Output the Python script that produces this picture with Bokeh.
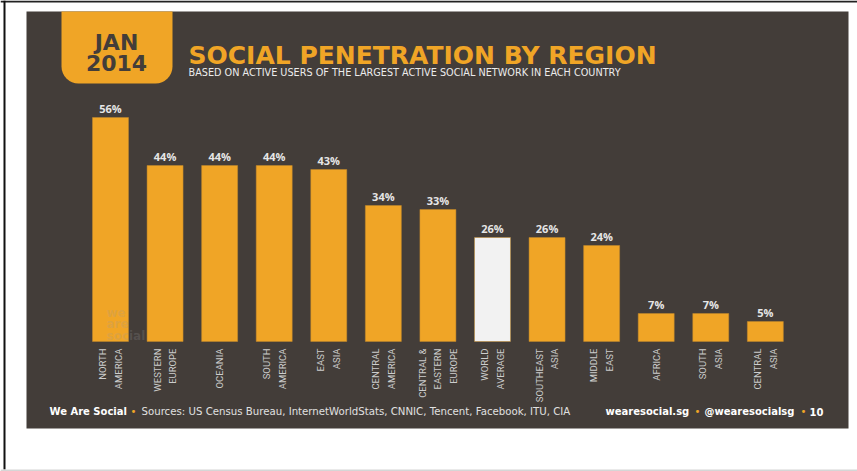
import numpy as np
from bokeh.plotting import figure
from bokeh.models import Range1d, BoxAnnotation, Label, ColumnDataSource
from bokeh.core.properties import value
from bokeh.embed import file_html
from bokeh.resources import INLINE

# ---------------- data ----------------
categories = ["NORTH\nAMERICA", "WESTERN\nEUROPE", "OCEANIA", "SOUTH\nAMERICA", "EAST\nASIA",
              "CENTRAL\nAMERICA", "CENTRAL &\nEASTERN\nEUROPE", "WORLD\nAVERAGE", "SOUTHEAST\nASIA",
              "MIDDLE\nEAST", "AFRICA", "SOUTH\nASIA", "CENTRAL\nASIA"]
penetration = [56, 44, 44, 44, 43, 34, 33, 26, 26, 24, 7, 7, 5]
highlight = "WORLD\nAVERAGE"

title = "SOCIAL PENETRATION BY REGION"
subtitle = "BASED ON ACTIVE USERS OF THE LARGEST ACTIVE SOCIAL NETWORK IN EACH COUNTRY"
badge = ["JAN", "2014"]
sources = "Sources: US Census Bureau, InternetWorldStats, CNNIC, Tencent, Facebook, ITU, CIA"

# ---------------- style / layout ----------------
ORANGE = "#f0a526"
DARK = "#433d39"
W, H = 857, 471
X0, DX = 110.0, 54.57   # pixel centre of first bar, pixels per category
Y0, DY = 341.0, 4.0     # pixel of 0 %, pixels per percent


def X(px):
    return (px - X0) / DX


def Y(py):
    return (Y0 - py) / DY


idx = list(range(len(categories)))
colors = ["#f2f2f2" if c == highlight else ORANGE for c in categories]
src = ColumnDataSource(dict(x=idx, top=penetration, cat=categories,
                            lab=[f"{v}%" for v in penetration], color=colors))

p = figure(width=W, height=H, x_range=Range1d(X(0), X(W)), y_range=Range1d(Y(H), Y(0)),
           output_backend="svg", toolbar_location=None, x_axis_location=None,
           y_axis_location=None, min_border=0, outline_line_color=None,
           background_fill_color="white", border_fill_color="white")
p.xgrid.visible = False
p.ygrid.visible = False

# page frame lines
p.add_layout(BoxAnnotation(top=Y(0), bottom=Y(2), fill_color="#222222", fill_alpha=1, line_color=None, level="underlay"))
p.add_layout(BoxAnnotation(left=X(3), right=X(5), top=Y(0), bottom=Y(469), fill_color="#111111", fill_alpha=1, line_color=None, level="underlay"))
p.add_layout(BoxAnnotation(top=Y(469), bottom=Y(471), fill_color="#d6d6d6", fill_alpha=1, line_color=None, level="underlay"))

# slide
p.add_layout(BoxAnnotation(left=X(26), right=X(848), top=Y(11), bottom=Y(428), fill_color=DARK,
                           fill_alpha=1, line_color=None, level="underlay"))
# badge
p.add_layout(BoxAnnotation(left=X(61), right=X(172), top=Y(11), bottom=Y(83), fill_color=ORANGE,
                           fill_alpha=1, line_color=None, level="underlay",
                           border_radius=(0, 0, 17, 17)))
p.add_layout(Label(x=X(116), y=Y(41.5), text=badge[0], text_align="center", text_baseline="middle",
                   text_font="DejaVu Sans", text_font_style="bold", text_font_size="22px", text_color=DARK))
p.add_layout(Label(x=X(116), y=Y(62), text=badge[1], text_align="center", text_baseline="middle",
                   text_font="DejaVu Sans", text_font_style="bold", text_font_size="22px", text_color=DARK))

# titles
p.add_layout(Label(x=X(188), y=Y(54.5), text=title, text_align="left", text_baseline="middle",
                   text_font="DejaVu Sans", text_font_style="bold", text_font_size="25px", text_color=ORANGE))
p.add_layout(Label(x=X(188), y=Y(72), text=subtitle, text_align="left", text_baseline="middle",
                   text_font="DejaVu Sans", text_font_size="9.7px", text_color="#ececec"))

# bars
p.vbar(x="x", top="top", bottom=0, width=36 / DX, fill_color="color", line_color="#c48a2c",
       line_alpha=0.5, line_width=1, source=src)

# watermark
p.add_layout(Label(x=X(106), y=Y(305), text="we\nare\nsocial", text_align="left", text_baseline="top",
                   text_font="DejaVu Sans", text_font_style="bold", text_font_size="12px",
                   text_color="#9a9a9a", text_alpha=0.22, text_line_height=0.85))

# value labels
p.text(x="x", y="top", text="lab", source=src, text_font=value("Open Sans"), text_font_style="bold",
       text_font_size="11px", text_color="#e6e6e6", text_align="center", text_baseline="middle",
       y_offset=-9)

# category labels
p.text(x="x", y=0, text="cat", source=src, angle=np.pi / 2, text_align="right", text_baseline="middle",
       y_offset=7, text_font=value("Roboto"), text_font_size="9.5px",
       text_color="#cdcdcd", text_line_height=1.42)

# footer
FY = Y(411)
FS = "10px"
p.add_layout(Label(x=X(49), y=FY, text="We Are Social", text_font="DejaVu Sans", text_font_style="bold",
                   text_font_size=FS, text_color="#ffffff", text_baseline="middle"))
p.add_layout(Label(x=X(133), y=FY, text="•", text_font="DejaVu Sans", text_font_size=FS,
                   text_color=ORANGE, text_align="center", text_baseline="middle"))
p.add_layout(Label(x=X(141), y=FY, text=sources,
                   text_font="DejaVu Sans", text_font_size="10.2px", text_color="#e0e0e0",
                   text_baseline="middle"))
p.add_layout(Label(x=X(605), y=FY, text="wearesocial.sg", text_font="DejaVu Sans", text_font_style="bold",
                   text_font_size=FS, text_color="#ffffff", text_baseline="middle"))
p.add_layout(Label(x=X(697), y=FY, text="•", text_font="DejaVu Sans", text_font_size=FS,
                   text_color=ORANGE, text_align="center", text_baseline="middle"))
p.add_layout(Label(x=X(704), y=FY, text="@wearesocialsg", text_font="DejaVu Sans", text_font_style="bold",
                   text_font_size=FS, text_color="#ffffff", text_baseline="middle"))
p.add_layout(Label(x=X(803), y=FY, text="•", text_font="DejaVu Sans", text_font_size=FS,
                   text_color=ORANGE, text_align="center", text_baseline="middle"))
p.add_layout(Label(x=X(823), y=FY, text="10", text_font="DejaVu Sans", text_font_style="bold",
                   text_font_size=FS, text_color="#ffffff", text_align="right", text_baseline="middle"))

open("out.html", "w").write(file_html(p, INLINE))
